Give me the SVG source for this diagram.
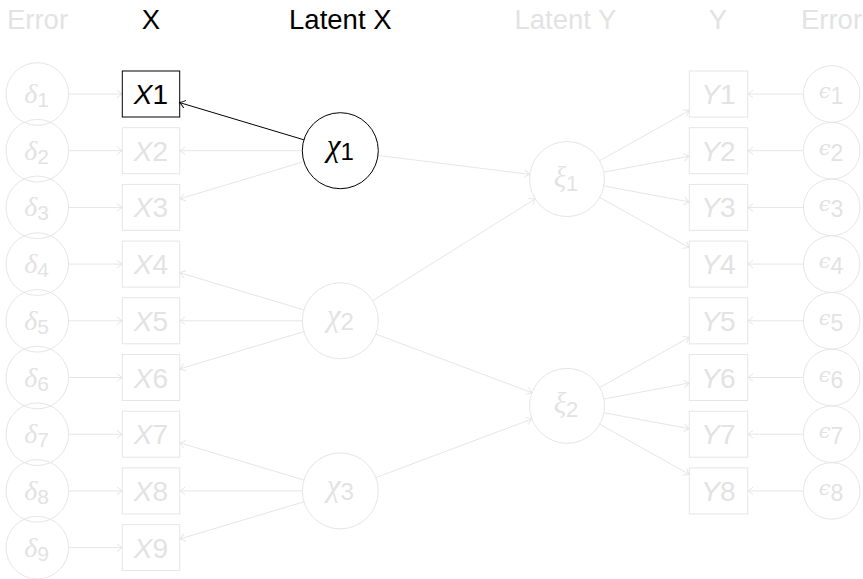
<svg xmlns="http://www.w3.org/2000/svg" width="863" height="579" viewBox="0 0 863 579">
<defs>
<marker id="ag" markerUnits="userSpaceOnUse" markerWidth="12" markerHeight="12" viewBox="-7 -6 8 12" refX="0" refY="0" orient="auto">
<path d="M-5,-3.6 Q-1.8,-0.9 0,0 Q-1.8,0.9 -5,3.6" fill="none" stroke="#e6e6e6" stroke-width="1" stroke-linecap="round"/>
</marker>
<marker id="ab" markerUnits="userSpaceOnUse" markerWidth="12" markerHeight="12" viewBox="-7 -6 8 12" refX="0" refY="0" orient="auto">
<path d="M-5,-3.6 Q-1.8,-0.9 0,0 Q-1.8,0.9 -5,3.6" fill="none" stroke="#000" stroke-width="1" stroke-linecap="round"/>
</marker>
</defs>
<style>
.g{stroke:#e6e6e6;fill:none;stroke-width:1}
.k{stroke:#000;fill:none;stroke-width:1}
.cg path{stroke:#e6e6e6;fill:none;stroke-width:1;marker-end:url(#ag)}
.ck path{stroke:#000;fill:none;stroke-width:1;marker-end:url(#ab)}
text{font-family:"Liberation Sans","DejaVu Sans",sans-serif;text-anchor:middle}
.tg{fill:#e3e3e3}
.tk{fill:#000}
.hd{font-size:27.5px}
.lb{font-size:28px}
.it{font-style:italic}
.gr{font-family:"Liberation Serif","DejaVu Serif",serif;font-style:italic}
.gr2{font-family:"DejaVu Serif","Liberation Serif",serif;font-style:italic}
</style>

<g id="headers">
<text class="hd tg" x="37.5" y="29.3">Error</text>
<text class="hd tk" x="151" y="29.3">X</text>
<text class="hd tk" x="340.3" y="29.3">Latent X</text>
<text class="hd tg" x="565.5" y="29.3">Latent Y</text>
<text class="hd tg" x="718" y="29.3">Y</text>
<text class="hd tg" x="831.5" y="29.3">Error</text>
</g>

<g id="connectors">
<g class="cg">
<path d="M68.6,94 H122.3"/>
<path d="M68.6,150.7 H122.3"/>
<path d="M68.6,207.4 H122.3"/>
<path d="M68.6,264.1 H122.3"/>
<path d="M68.6,320.8 H122.3"/>
<path d="M68.6,377.5 H122.3"/>
<path d="M68.6,434.2 H122.3"/>
<path d="M68.6,490.9 H122.3"/>
<path d="M68.6,547.6 H122.3"/>
<path d="M803.4,94 H747.7"/>
<path d="M803.4,150.7 H747.7"/>
<path d="M803.4,207.4 H747.7"/>
<path d="M803.4,264.1 H747.7"/>
<path d="M803.4,320.8 H747.7"/>
<path d="M803.4,377.5 H747.7"/>
<path d="M803.4,434.2 H747.7"/>
<path d="M803.4,490.9 H747.7"/>
<path d="M302.3,150.7 H179.7"/>
<path d="M303.9,161.6 L179.7,198.8"/>
<path d="M303.9,309.9 L179.7,272.7"/>
<path d="M302.3,320.8 H179.7"/>
<path d="M303.9,331.7 L179.7,368.9"/>
<path d="M303.9,480 L179.7,442.8"/>
<path d="M302.3,490.9 H179.7"/>
<path d="M303.9,501.8 L179.7,539"/>
<path d="M378,155.4 L529.8,174.4"/>
<path d="M372.5,300.7 L535.2,198.9"/>
<path d="M375.9,334.15 L531.9,392.7"/>
<path d="M375.9,477.55 L531.9,419"/>
<path d="M599.7,160.7 L689.3,110.5"/>
<path d="M603.9,172.15 L689.3,156.2"/>
<path d="M603.9,185.95 L689.3,201.9"/>
<path d="M599.7,197.4 L689.3,247.6"/>
<path d="M599.7,387.5 L689.3,337.3"/>
<path d="M603.9,399 L689.3,383"/>
<path d="M603.9,412.75 L689.3,428.7"/>
<path d="M599.7,424.2 L689.3,474.4"/>
</g>
<g class="ck">
<path d="M303.9,139.8 L179.7,102.6"/>
</g>
</g>

<g id="delta1"><circle class="g" cx="37.3" cy="94" r="31.3"/><text class="tg" x="36.5" y="103"><tspan class="gr" font-size="28">δ</tspan><tspan font-size="21" dy="4">1</tspan></text></g>
<g id="delta2"><circle class="g" cx="37.3" cy="150.7" r="31.3"/><text class="tg" x="36.5" y="159.7"><tspan class="gr" font-size="28">δ</tspan><tspan font-size="21" dy="4">2</tspan></text></g>
<g id="delta3"><circle class="g" cx="37.3" cy="207.4" r="31.3"/><text class="tg" x="36.5" y="216.4"><tspan class="gr" font-size="28">δ</tspan><tspan font-size="21" dy="4">3</tspan></text></g>
<g id="delta4"><circle class="g" cx="37.3" cy="264.1" r="31.3"/><text class="tg" x="36.5" y="273.1"><tspan class="gr" font-size="28">δ</tspan><tspan font-size="21" dy="4">4</tspan></text></g>
<g id="delta5"><circle class="g" cx="37.3" cy="320.8" r="31.3"/><text class="tg" x="36.5" y="329.8"><tspan class="gr" font-size="28">δ</tspan><tspan font-size="21" dy="4">5</tspan></text></g>
<g id="delta6"><circle class="g" cx="37.3" cy="377.5" r="31.3"/><text class="tg" x="36.5" y="386.5"><tspan class="gr" font-size="28">δ</tspan><tspan font-size="21" dy="4">6</tspan></text></g>
<g id="delta7"><circle class="g" cx="37.3" cy="434.2" r="31.3"/><text class="tg" x="36.5" y="443.2"><tspan class="gr" font-size="28">δ</tspan><tspan font-size="21" dy="4">7</tspan></text></g>
<g id="delta8"><circle class="g" cx="37.3" cy="490.9" r="31.3"/><text class="tg" x="36.5" y="499.9"><tspan class="gr" font-size="28">δ</tspan><tspan font-size="21" dy="4">8</tspan></text></g>
<g id="delta9"><circle class="g" cx="37.3" cy="547.6" r="31.3"/><text class="tg" x="36.5" y="556.6"><tspan class="gr" font-size="28">δ</tspan><tspan font-size="21" dy="4">9</tspan></text></g>

<g id="X1"><rect class="k" x="122.3" y="71" width="57.4" height="46"/><text class="lb tk" x="151" y="104"><tspan class="it">X</tspan>1</text></g>
<g id="X2"><rect class="g" x="122.3" y="127.7" width="57.4" height="46"/><text class="lb tg" x="151" y="160.7"><tspan class="it">X</tspan>2</text></g>
<g id="X3"><rect class="g" x="122.3" y="184.4" width="57.4" height="46"/><text class="lb tg" x="151" y="217.4"><tspan class="it">X</tspan>3</text></g>
<g id="X4"><rect class="g" x="122.3" y="241.1" width="57.4" height="46"/><text class="lb tg" x="151" y="274.1"><tspan class="it">X</tspan>4</text></g>
<g id="X5"><rect class="g" x="122.3" y="297.8" width="57.4" height="46"/><text class="lb tg" x="151" y="330.8"><tspan class="it">X</tspan>5</text></g>
<g id="X6"><rect class="g" x="122.3" y="354.5" width="57.4" height="46"/><text class="lb tg" x="151" y="387.5"><tspan class="it">X</tspan>6</text></g>
<g id="X7"><rect class="g" x="122.3" y="411.2" width="57.4" height="46"/><text class="lb tg" x="151" y="444.2"><tspan class="it">X</tspan>7</text></g>
<g id="X8"><rect class="g" x="122.3" y="467.9" width="57.4" height="46"/><text class="lb tg" x="151" y="500.9"><tspan class="it">X</tspan>8</text></g>
<g id="X9"><rect class="g" x="122.3" y="524.6" width="57.4" height="46"/><text class="lb tg" x="151" y="557.6"><tspan class="it">X</tspan>9</text></g>

<g id="chi1"><circle class="k" cx="340.3" cy="150.7" r="38"/><text class="tk" x="340.3" y="156"><tspan class="gr" font-size="31">χ</tspan><tspan font-size="24" dy="3.5">1</tspan></text></g>
<g id="chi2"><circle class="g" cx="340.3" cy="320.8" r="38"/><text class="tg" x="340.3" y="326.1"><tspan class="gr" font-size="31">χ</tspan><tspan font-size="24" dy="3.5">2</tspan></text></g>
<g id="chi3"><circle class="g" cx="340.3" cy="490.9" r="38"/><text class="tg" x="340.3" y="496.2"><tspan class="gr" font-size="31">χ</tspan><tspan font-size="24" dy="3.5">3</tspan></text></g>

<g id="xi1"><circle class="g" cx="567" cy="179.05" r="37.5"/><text class="tg" x="566" y="186.5"><tspan class="gr" font-size="29">ξ</tspan><tspan font-size="22" dy="4">1</tspan></text></g>
<g id="xi2"><circle class="g" cx="567" cy="405.85" r="37.5"/><text class="tg" x="566" y="413.3"><tspan class="gr" font-size="29">ξ</tspan><tspan font-size="22" dy="4">2</tspan></text></g>

<g id="Y1"><rect class="g" x="689.3" y="71" width="58.4" height="46"/><text class="lb tg" x="718.5" y="104"><tspan class="it">Y</tspan>1</text></g>
<g id="Y2"><rect class="g" x="689.3" y="127.7" width="58.4" height="46"/><text class="lb tg" x="718.5" y="160.7"><tspan class="it">Y</tspan>2</text></g>
<g id="Y3"><rect class="g" x="689.3" y="184.4" width="58.4" height="46"/><text class="lb tg" x="718.5" y="217.4"><tspan class="it">Y</tspan>3</text></g>
<g id="Y4"><rect class="g" x="689.3" y="241.1" width="58.4" height="46"/><text class="lb tg" x="718.5" y="274.1"><tspan class="it">Y</tspan>4</text></g>
<g id="Y5"><rect class="g" x="689.3" y="297.8" width="58.4" height="46"/><text class="lb tg" x="718.5" y="330.8"><tspan class="it">Y</tspan>5</text></g>
<g id="Y6"><rect class="g" x="689.3" y="354.5" width="58.4" height="46"/><text class="lb tg" x="718.5" y="387.5"><tspan class="it">Y</tspan>6</text></g>
<g id="Y7"><rect class="g" x="689.3" y="411.2" width="58.4" height="46"/><text class="lb tg" x="718.5" y="444.2"><tspan class="it">Y</tspan>7</text></g>
<g id="Y8"><rect class="g" x="689.3" y="467.9" width="58.4" height="46"/><text class="lb tg" x="718.5" y="500.9"><tspan class="it">Y</tspan>8</text></g>

<g id="eps1"><circle class="g" cx="831.7" cy="94" r="28.3"/><text class="tg" x="831" y="98"><tspan class="gr2" font-size="21">ϵ</tspan><tspan font-size="23" dy="6">1</tspan></text></g>
<g id="eps2"><circle class="g" cx="831.7" cy="150.7" r="28.3"/><text class="tg" x="831" y="154.7"><tspan class="gr2" font-size="21">ϵ</tspan><tspan font-size="23" dy="6">2</tspan></text></g>
<g id="eps3"><circle class="g" cx="831.7" cy="207.4" r="28.3"/><text class="tg" x="831" y="211.4"><tspan class="gr2" font-size="21">ϵ</tspan><tspan font-size="23" dy="6">3</tspan></text></g>
<g id="eps4"><circle class="g" cx="831.7" cy="264.1" r="28.3"/><text class="tg" x="831" y="268.1"><tspan class="gr2" font-size="21">ϵ</tspan><tspan font-size="23" dy="6">4</tspan></text></g>
<g id="eps5"><circle class="g" cx="831.7" cy="320.8" r="28.3"/><text class="tg" x="831" y="324.8"><tspan class="gr2" font-size="21">ϵ</tspan><tspan font-size="23" dy="6">5</tspan></text></g>
<g id="eps6"><circle class="g" cx="831.7" cy="377.5" r="28.3"/><text class="tg" x="831" y="381.5"><tspan class="gr2" font-size="21">ϵ</tspan><tspan font-size="23" dy="6">6</tspan></text></g>
<g id="eps7"><circle class="g" cx="831.7" cy="434.2" r="28.3"/><text class="tg" x="831" y="438.2"><tspan class="gr2" font-size="21">ϵ</tspan><tspan font-size="23" dy="6">7</tspan></text></g>
<g id="eps8"><circle class="g" cx="831.7" cy="490.9" r="28.3"/><text class="tg" x="831" y="494.9"><tspan class="gr2" font-size="21">ϵ</tspan><tspan font-size="23" dy="6">8</tspan></text></g>
</svg>
